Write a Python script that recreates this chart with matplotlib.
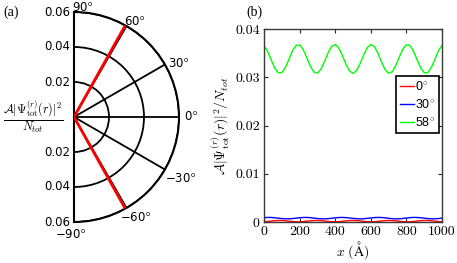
import numpy as np
import matplotlib
matplotlib.use("Agg")
import matplotlib.pyplot as plt

plt.rcParams['mathtext.fontset'] = 'cm'
plt.rcParams['font.family'] = ['DejaVu Sans']

# ---- panel (a): polar lobe ----
lobe_theta_deg = [60.8, 0, -60.8]
lobe_r = [0.06, 0.0, 0.06]
r_ticks = [0.02, 0.04, 0.06]
r_ticklabels = ['0.02', '0.04', '0.06']
theta_ticks = [-90, -60, -30, 0, 30, 60, 90]
theta_labels = ['\u221290$^{\\mathsf{o}}$', '\u221260$^{\\mathsf{o}}$', '\u221230$^{\\mathsf{o}}$',
                '0$^{\\mathsf{o}}$', '30$^{\\mathsf{o}}$', '60$^{\\mathsf{o}}$', '90$^{\\mathsf{o}}$']

# ---- panel (b): intensity vs x ----
x = list(range(0, 1001, 20))
red_0 = [0.00005, 0.00011, 0.00019, 0.00027, 0.00031, 0.00031, 0.00026, 0.00018, 0.00010, 0.00005,
         0.00004, 0.00009, 0.00017, 0.00025, 0.00031, 0.00032, 0.00028, 0.00020, 0.00012, 0.00006,
         0.00004, 0.00007, 0.00015, 0.00023, 0.00030, 0.00032, 0.00029, 0.00023, 0.00014, 0.00007,
         0.00004, 0.00006, 0.00012, 0.00021, 0.00028, 0.00032, 0.00030, 0.00024, 0.00016, 0.00009,
         0.00004, 0.00005, 0.00011, 0.00019, 0.00027, 0.00031, 0.00031, 0.00026, 0.00018, 0.00010,
         0.00005]
blue_30 = [0.00090, 0.00095, 0.00094, 0.00088, 0.00079, 0.00071, 0.00066, 0.00066, 0.00071, 0.00080,
           0.00088, 0.00094, 0.00095, 0.00090, 0.00081, 0.00073, 0.00066, 0.00065, 0.00069, 0.00077,
           0.00086, 0.00093, 0.00095, 0.00091, 0.00084, 0.00075, 0.00068, 0.00065, 0.00068, 0.00075,
           0.00084, 0.00092, 0.00095, 0.00093, 0.00086, 0.00077, 0.00069, 0.00065, 0.00067, 0.00073,
           0.00082, 0.00090, 0.00095, 0.00094, 0.00088, 0.00079, 0.00071, 0.00066, 0.00066, 0.00071,
           0.00080]
green_58 = [0.03657, 0.03539, 0.03364, 0.03195, 0.03093, 0.03095, 0.03200, 0.03373, 0.03547, 0.03660,
            0.03671, 0.03576, 0.03410, 0.03233, 0.03109, 0.03084, 0.03168, 0.03327, 0.03507, 0.03640,
            0.03679, 0.03609, 0.03455, 0.03274, 0.03132, 0.03080, 0.03137, 0.03283, 0.03464, 0.03614,
            0.03679, 0.03636, 0.03498, 0.03318, 0.03161, 0.03083, 0.03113, 0.03241, 0.03419, 0.03583,
            0.03673, 0.03657, 0.03539, 0.03364, 0.03195, 0.03093, 0.03095, 0.03200, 0.03373, 0.03547,
            0.03660]
series_labels = ['0$^{\\circ}$', '30$^{\\circ}$', '58$^{\\circ}$']
xticks = [0, 200, 400, 600, 800, 1000]
yticks = [0, 0.01, 0.02, 0.03, 0.04]
ytick_labels = ['0', '0.01', '0.02', '0.03', '0.04']

W, H = 457, 263
fig = plt.figure(figsize=(W / 100, H / 100), dpi=100)

# polar half-disc: centre at (74,117) px, radius 105 px
R = 105
axp = fig.add_axes([(74 - R / 2) / W, (H - 117 - R) / H, 2 * R / W, 2 * R / H], projection='polar')
axp.set_thetamin(-90)
axp.set_thetamax(90)
axp.set_rlim(0, 0.06)
axp.set_rticks(r_ticks)
axp.set_yticklabels([])
axp.set_thetagrids(theta_ticks, [''] * len(theta_ticks))
axp.grid(True, color='black', lw=1.3, ls='-')
for sp in axp.spines.values():
    sp.set_color('black')
    sp.set_linewidth(1.5)
axp.plot(np.deg2rad(lobe_theta_deg), lobe_r, color='red', lw=2, zorder=5)
for r, lab in zip(r_ticks, r_ticklabels):
    for sgn in (1, -1):
        axp.annotate(lab, xy=(sgn * np.pi / 2, r), xytext=(-4, 0), textcoords='offset pixels',
                     ha='right', va='center', fontsize=8.5, annotation_clip=False)

# theta label placement around the outer arc
theta_place = {
    -90: ('center', 'top', (-3, -6)),
    -60: ('left', 'top', (-7, -3)),
    -30: ('left', 'top', (0, -3)),
    0: ('left', 'center', (5, 0)),
    30: ('left', 'center', (3, 1)),
    60: ('left', 'bottom', (-3, -2)),
    90: ('left', 'bottom', (-2, -2)),
}
for t, lab in zip(theta_ticks, theta_labels):
    ha, va, off = theta_place[t]
    axp.annotate(lab, xy=(np.deg2rad(t), 0.06), xytext=off, textcoords='offset pixels',
                 ha=ha, va=va, fontsize=8.5, annotation_clip=False)

fig.text(33 / W, 1 - 117 / H,
         r'$\frac{\mathcal{A}|\Psi^{(r)}_{\mathrm{tot}}(r)|^2}{N_{tot}}$',
         ha='center', va='center', fontsize=12.5)

# right panel
ax = fig.add_axes([264 / W, (H - 222) / H, 178 / W, 193 / H])
ax.plot(x, red_0, color='#ff0000', lw=1, label=series_labels[0])
ax.plot(x, blue_30, color='#0000ff', lw=1, label=series_labels[1])
ax.plot(x, green_58, color='#00ff00', lw=1, label=series_labels[2])
ax.set_xlim(0, 1000)
ax.set_ylim(0, 0.04)
ax.set_xticks(xticks)
ax.set_xticklabels([str(v) for v in xticks], fontfamily='cmr10', fontsize=10)
ax.set_yticks(yticks)
ax.set_yticklabels(ytick_labels, fontfamily='cmr10', fontsize=10)
ax.tick_params(direction='in', length=3, width=0.8, top=True, right=True, color='#262626', pad=3)
for sp in ax.spines.values():
    sp.set_color('#3a3a3a')
    sp.set_linewidth(1)
ax.set_xlabel(r'$x\ (\mathrm{\AA})$', fontsize=10, labelpad=1)
ax.set_ylabel(r'$\mathcal{A}|\Psi^{(r)}_{\mathrm{tot}}(r)|^2/N_{tot}$', fontsize=10, labelpad=2)
leg = ax.legend(loc='upper left', bbox_to_anchor=(0.742, 0.755),
                prop={'family': 'Liberation Sans', 'size': 9},
                frameon=True, fancybox=False, framealpha=1, edgecolor='black',
                handlelength=1.1, handletextpad=0.1, borderpad=0.3, labelspacing=0.4,
                borderaxespad=0)
leg.get_frame().set_linewidth(1.2)

fig.text(3 / W, 1 - 12 / H, '(a)', fontfamily='Liberation Serif', fontsize=10, va='center')
fig.text(246 / W, 1 - 12 / H, '(b)', fontfamily='Liberation Serif', fontsize=10, va='center')

fig.savefig('out.png', dpi=100)
